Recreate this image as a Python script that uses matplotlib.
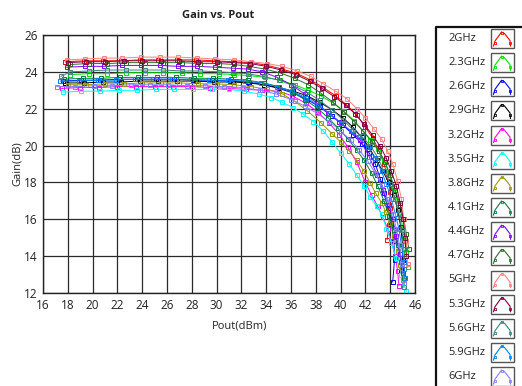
import numpy as np
import matplotlib
matplotlib.use('Agg')
from matplotlib import pyplot as plt
from matplotlib.patches import Rectangle

plt.rcParams['font.family'] = ['Open Sans', 'DejaVu Sans']

# frequencies shown in the legend, one curve each
labels = ['2GHz', '2.3GHz', '2.6GHz', '2.9GHz', '3.2GHz', '3.5GHz', '3.8GHz', '4.1GHz',
          '4.4GHz', '4.7GHz', '5GHz', '5.3GHz', '5.6GHz', '5.9GHz', '6GHz']
colors = ['#ff0000', '#00e000', '#0000ff', '#000000', '#ff00ff', '#00ffff', '#999900', '#008040',
          '#8000ff', '#2e6b2e', '#ff8080', '#800040', '#408080', '#0080ff', '#8080ff']

# Pout (dBm) / Gain (dB)
pout_2g = [17.8, 19.3, 20.8, 22.3, 23.8, 25.3, 26.8, 28.3, 29.8, 31.3, 32.8, 34.1, 35.3, 36.5, 37.6, 38.6,
           39.6, 40.5, 41.3, 42.0, 42.6, 43.1, 43.5, 43.8, 44.0, 44.0, 43.9, 43.75]
gain_2g = [24.55, 24.6, 24.6, 24.6, 24.65, 24.65, 24.65, 24.65, 24.6, 24.55, 24.5, 24.35, 24.15, 23.9, 23.55,
           23.15, 22.7, 22.2, 21.65, 21.0, 20.4, 19.7, 19.0, 18.3, 17.5, 16.6, 15.7, 14.9]

pout_2g3 = [18.2, 19.7, 21.2, 22.7, 24.2, 25.7, 27.2, 28.7, 30.2, 31.4, 32.6, 33.9, 35.1, 36.3, 37.4, 38.4,
            39.4, 40.3, 41.1, 41.8, 42.4, 43.0, 43.5, 43.9, 44.3, 44.6, 44.9, 45.1, 45.3, 45.4]
gain_2g3 = [23.85, 23.9, 23.9, 23.95, 23.95, 23.95, 23.95, 23.9, 23.9, 23.85, 23.8, 23.7, 23.55, 23.3, 23.0,
            22.7, 22.3, 21.85, 21.35, 20.8, 20.3, 19.8, 19.2, 18.5, 17.7, 16.9, 16.0, 15.1, 14.2, 13.4]

pout_2g6 = [17.6, 19.1, 20.6, 22.1, 23.6, 25.1, 26.6, 28.1, 29.6, 31.1, 32.5, 33.8, 35.0, 36.2, 37.3, 38.3,
            39.3, 40.2, 41.0, 41.7, 42.3, 42.8, 43.2, 43.5, 43.8, 44.1, 44.3, 44.35, 44.2]
gain_2g6 = [23.5, 23.55, 23.55, 23.6, 23.6, 23.6, 23.6, 23.55, 23.55, 23.5, 23.45, 23.3, 23.1, 22.85, 22.5,
            22.1, 21.6, 21.1, 20.6, 20.1, 19.6, 19.0, 18.2, 17.4, 16.6, 15.7, 14.8, 13.8, 12.6]

pout_2g9 = [17.8, 19.3, 20.8, 22.3, 23.8, 25.3, 26.8, 28.3, 29.8, 31.3, 32.6, 33.8, 35.0, 36.2, 37.3, 38.3,
            39.3, 40.2, 41.0, 41.7, 42.3, 42.9, 43.4, 43.9, 44.3, 44.6, 44.85, 45.0, 45.0, 44.9]
gain_2g9 = [23.4, 23.4, 23.45, 23.45, 23.5, 23.5, 23.5, 23.5, 23.45, 23.45, 23.4, 23.3, 23.15, 22.95, 22.7,
            22.35, 21.95, 21.5, 21.0, 20.45, 19.9, 19.2, 18.6, 18.0, 17.3, 16.5, 15.6, 14.6, 13.8, 13.25]

pout_3g2 = [17.5, 19.0, 20.5, 22.0, 23.5, 25.0, 26.5, 28.0, 29.5, 31.0, 32.4, 33.7, 35.0, 36.1, 37.2, 38.2,
            39.1, 39.9, 40.6, 41.3, 42.0, 42.5, 43.0, 43.4, 43.8, 44.1, 44.4, 44.6, 44.7]
gain_3g2 = [23.1, 23.15, 23.15, 23.2, 23.2, 23.2, 23.2, 23.2, 23.15, 23.1, 23.05, 23.0, 22.95, 22.7, 22.3,
            21.8, 21.2, 20.6, 19.9, 19.1, 18.0, 17.3, 16.7, 16.1, 15.5, 14.8, 14.0, 13.2, 12.4]

pout_3g5 = [17.6, 19.1, 20.6, 22.1, 23.6, 25.1, 26.6, 28.1, 29.6, 31.0, 32.2, 33.4, 34.4, 35.3, 36.2, 37.0,
            37.8, 38.6, 39.3, 40.0, 40.7, 41.3, 41.9, 42.4, 42.9, 43.3, 43.7, 44.1, 44.5, 44.9, 45.3]
gain_3g5 = [22.9, 22.95, 22.95, 23.0, 23.0, 23.05, 23.05, 23.05, 23.05, 23.05, 22.95, 22.8, 22.6, 22.35, 22.05,
            21.7, 21.3, 20.8, 20.2, 19.6, 19.0, 18.4, 17.8, 17.2, 16.7, 16.3, 15.5, 14.7, 13.9, 13.0, 12.1]

pout_3g8 = [18.0, 19.5, 21.0, 22.5, 24.0, 25.5, 27.0, 28.5, 30.0, 31.4, 32.8, 34.1, 35.3, 36.3, 37.3, 38.4,
            39.3, 40.0, 40.7, 41.3, 41.9, 42.4, 42.85, 43.3, 43.65, 44.0, 44.3, 44.6, 44.8, 45.0]
gain_3g8 = [23.3, 23.3, 23.35, 23.35, 23.4, 23.4, 23.4, 23.35, 23.35, 23.3, 23.2, 23.05, 22.8, 22.4, 21.9,
            21.25, 20.65, 20.2, 19.7, 19.2, 18.6, 17.95, 17.4, 16.9, 16.4, 15.8, 15.1, 14.3, 13.5, 12.7]

pout_4g1 = [17.7, 19.2, 20.7, 22.2, 23.7, 25.2, 26.7, 28.2, 29.7, 31.2, 32.5, 33.8, 35.0, 36.1, 37.1, 38.1,
            39.0, 39.8, 40.6, 41.3, 41.9, 42.5, 43.0, 43.5, 43.9, 44.3, 44.6, 44.9, 45.1]
gain_4g1 = [23.6, 23.65, 23.65, 23.7, 23.7, 23.7, 23.7, 23.65, 23.65, 23.6, 23.55, 23.4, 23.2, 22.9, 22.5,
            22.05, 21.5, 20.95, 20.35, 19.75, 19.2, 18.5, 17.8, 17.0, 16.2, 15.4, 14.6, 13.7, 12.8]

pout_4g4 = [17.9, 19.4, 20.9, 22.4, 23.9, 25.4, 26.9, 28.4, 29.9, 31.3, 32.5, 33.7, 34.9, 36.0, 37.1, 38.1,
            39.0, 39.9, 40.8, 41.6, 42.3, 42.95, 43.4, 43.9, 44.2, 44.5, 44.8, 45.0]
gain_4g4 = [24.25, 24.3, 24.3, 24.35, 24.35, 24.35, 24.3, 24.3, 24.25, 24.2, 24.15, 24.0, 23.7, 23.3, 22.8,
            22.3, 21.75, 21.3, 20.8, 20.3, 19.4, 18.4, 17.6, 16.8, 16.0, 15.1, 14.1, 13.1]

pout_4g7 = [18.2, 19.7, 21.2, 22.7, 24.2, 25.7, 27.2, 28.7, 30.2, 31.4, 32.6, 33.9, 35.1, 36.3, 37.4, 38.4,
            39.4, 40.3, 41.1, 41.8, 42.5, 43.1, 43.6, 44.0, 44.4, 44.8, 45.1, 45.3, 45.5]
gain_4g7 = [24.4, 24.45, 24.45, 24.5, 24.5, 24.5, 24.5, 24.45, 24.45, 24.4, 24.3, 24.15, 23.95, 23.65, 23.3,
            22.85, 22.35, 21.8, 21.3, 20.8, 20.25, 19.7, 19.1, 18.4, 17.6, 16.8, 16.0, 15.2, 14.4]

pout_5g = [17.9, 19.4, 20.9, 22.4, 23.9, 25.4, 26.9, 28.4, 29.9, 31.4, 32.8, 34.1, 35.3, 36.5, 37.6, 38.6,
           39.6, 40.5, 41.3, 42.0, 42.7, 43.3, 43.8, 44.2, 44.6, 44.9, 45.1, 45.3, 45.4]
gain_5g = [24.65, 24.7, 24.75, 24.75, 24.8, 24.8, 24.8, 24.75, 24.7, 24.65, 24.55, 24.45, 24.3, 24.05, 23.75,
           23.35, 22.95, 22.55, 22.0, 21.5, 20.9, 20.35, 19.7, 19.0, 18.1, 17.1, 16.0, 14.8, 13.6]

pout_5g3 = [18.0, 19.5, 21.0, 22.5, 24.0, 25.5, 27.0, 28.5, 30.0, 31.4, 32.7, 34.0, 35.2, 36.4, 37.5, 38.5,
            39.5, 40.4, 41.2, 41.9, 42.6, 43.2, 43.7, 44.1, 44.5, 44.8, 45.05, 45.2, 45.3]
gain_5g3 = [24.5, 24.55, 24.55, 24.6, 24.6, 24.6, 24.6, 24.55, 24.55, 24.5, 24.45, 24.3, 24.1, 23.85, 23.5,
            23.1, 22.65, 22.2, 21.7, 21.15, 20.55, 19.95, 19.3, 18.6, 17.8, 16.9, 16.0, 15.0, 14.0]

pout_5g6 = [17.45, 18.2, 19.7, 21.2, 22.7, 24.2, 25.7, 27.2, 28.7, 30.2, 31.3, 32.5, 33.8, 35.0, 36.2, 37.3,
            38.3, 39.3, 40.2, 41.0, 41.7, 42.4, 43.0, 43.5, 44.0, 44.4, 44.7, 44.95, 45.1, 45.15, 45.1]
gain_5g6 = [23.75, 24.0, 24.05, 24.1, 24.1, 24.1, 24.1, 24.05, 24.05, 24.0, 23.95, 23.9, 23.75, 23.55, 23.25,
            22.9, 22.45, 21.95, 21.4, 20.85, 20.5, 20.0, 19.35, 18.6, 17.9, 17.1, 16.3, 15.4, 14.4, 13.3, 12.3]

pout_5g9 = [17.4, 18.9, 20.4, 21.9, 23.4, 24.9, 26.4, 27.9, 29.4, 30.9, 32.3, 33.6, 34.9, 36.1, 37.2, 38.2,
            39.1, 40.0, 40.8, 41.5, 42.2, 42.8, 43.3, 43.7, 44.1, 44.4, 44.7, 44.9, 45.1, 45.2]
gain_5g9 = [23.5, 23.5, 23.55, 23.55, 23.6, 23.6, 23.6, 23.6, 23.55, 23.55, 23.5, 23.4, 23.2, 22.95, 22.6,
            22.2, 21.75, 21.25, 20.8, 20.45, 19.9, 19.3, 18.6, 17.9, 17.1, 16.3, 15.5, 14.6, 13.7, 12.8]

pout_6g = [17.1, 18.6, 20.1, 21.6, 23.1, 24.6, 26.1, 27.6, 29.1, 30.6, 32.1, 33.5, 34.8, 36.0, 37.1, 38.1,
           39.1, 40.0, 40.8, 41.5, 42.2, 42.8, 43.3, 43.8, 44.2, 44.5, 44.75, 44.95, 45.1]
gain_6g = [23.2, 23.2, 23.25, 23.25, 23.3, 23.3, 23.3, 23.25, 23.25, 23.2, 23.15, 23.0, 22.8, 22.5, 22.15,
           21.75, 21.3, 20.8, 20.3, 19.75, 19.15, 18.5, 17.85, 17.1, 16.3, 15.5, 14.6, 13.6, 12.55]

pouts = [pout_2g, pout_2g3, pout_2g6, pout_2g9, pout_3g2, pout_3g5, pout_3g8, pout_4g1,
         pout_4g4, pout_4g7, pout_5g, pout_5g3, pout_5g6, pout_5g9, pout_6g]
gains = [gain_2g, gain_2g3, gain_2g6, gain_2g9, gain_3g2, gain_3g5, gain_3g8, gain_4g1,
         gain_4g4, gain_4g7, gain_5g, gain_5g3, gain_5g6, gain_5g9, gain_6g]

x_ticks = list(range(16, 47, 2))
y_ticks = list(range(12, 27, 2))

W, H = 522, 386
fig = plt.figure(figsize=(W / 100, H / 100), dpi=100)
ax = fig.add_axes([43 / W, 1 - 293 / H, (415 - 43) / W, (293 - 35) / H])

for p, g, c in zip(pouts, gains, colors):
    ax.plot(p, g, color=c, lw=0.7, marker='s', ms=3.0, mfc='none', mec=c, mew=0.7)

ax.set_xlim(16, 46)
ax.set_ylim(12, 26)
ax.set_xticks(x_ticks)
ax.set_yticks(y_ticks)
ax.grid(True, color='#2a2a2a', lw=0.9)
ax.set_axisbelow(True)
ax.tick_params(length=0, pad=4, labelsize=8.5, colors='#222222')
for s in ax.spines.values():
    s.set_color('#222222')
    s.set_linewidth(1.0)

fig.text(218 / W, 1 - 16 / H, 'Gain vs. Pout', ha='center', va='center', fontsize=8, fontweight='bold', color='#222222')
fig.text(17 / W, 1 - 164 / H, 'Gain(dB)', ha='center', va='center', rotation=90, fontsize=8, color='#222222')
fig.text(240 / W, 1 - 326 / H, 'Pout(dBm)', ha='center', va='center', fontsize=8, color='#222222')

# legend panel on the right, drawn in pixel coordinates
ov = fig.add_axes([0, 0, 1, 1])
ov.set_xlim(0, W)
ov.set_ylim(H, 0)
ov.axis('off')
ov.plot([436, 436, W + 2], [H + 2, 27, 27], color='#111111', lw=1.6)
for i, (lab, c) in enumerate(zip(labels, colors)):
    yc = 38.5 + i * 24.15
    ov.text(448, yc, lab, ha='left', va='center', fontsize=8, color='#222222')
    ov.add_patch(Rectangle((491, yc - 9.5), 23, 19, fc='white', ec='#555555', lw=1.0))
    ix = [493.5, 495, 501.5, 504.5, 510, 510.5]
    iy = [yc + 7.5, yc + 2.5, yc - 6.5, yc - 5.0, yc + 2.0, yc + 7.5]
    ov.plot(ix, iy, color=c, lw=0.8)
    ov.plot([494.5, 502, 509.5], [yc + 4.5, yc - 6, yc + 4.5], ls='none', marker='s', ms=2.0,
            mfc='none', mec=c, mew=0.6)

fig.savefig('out.png', dpi=100)
